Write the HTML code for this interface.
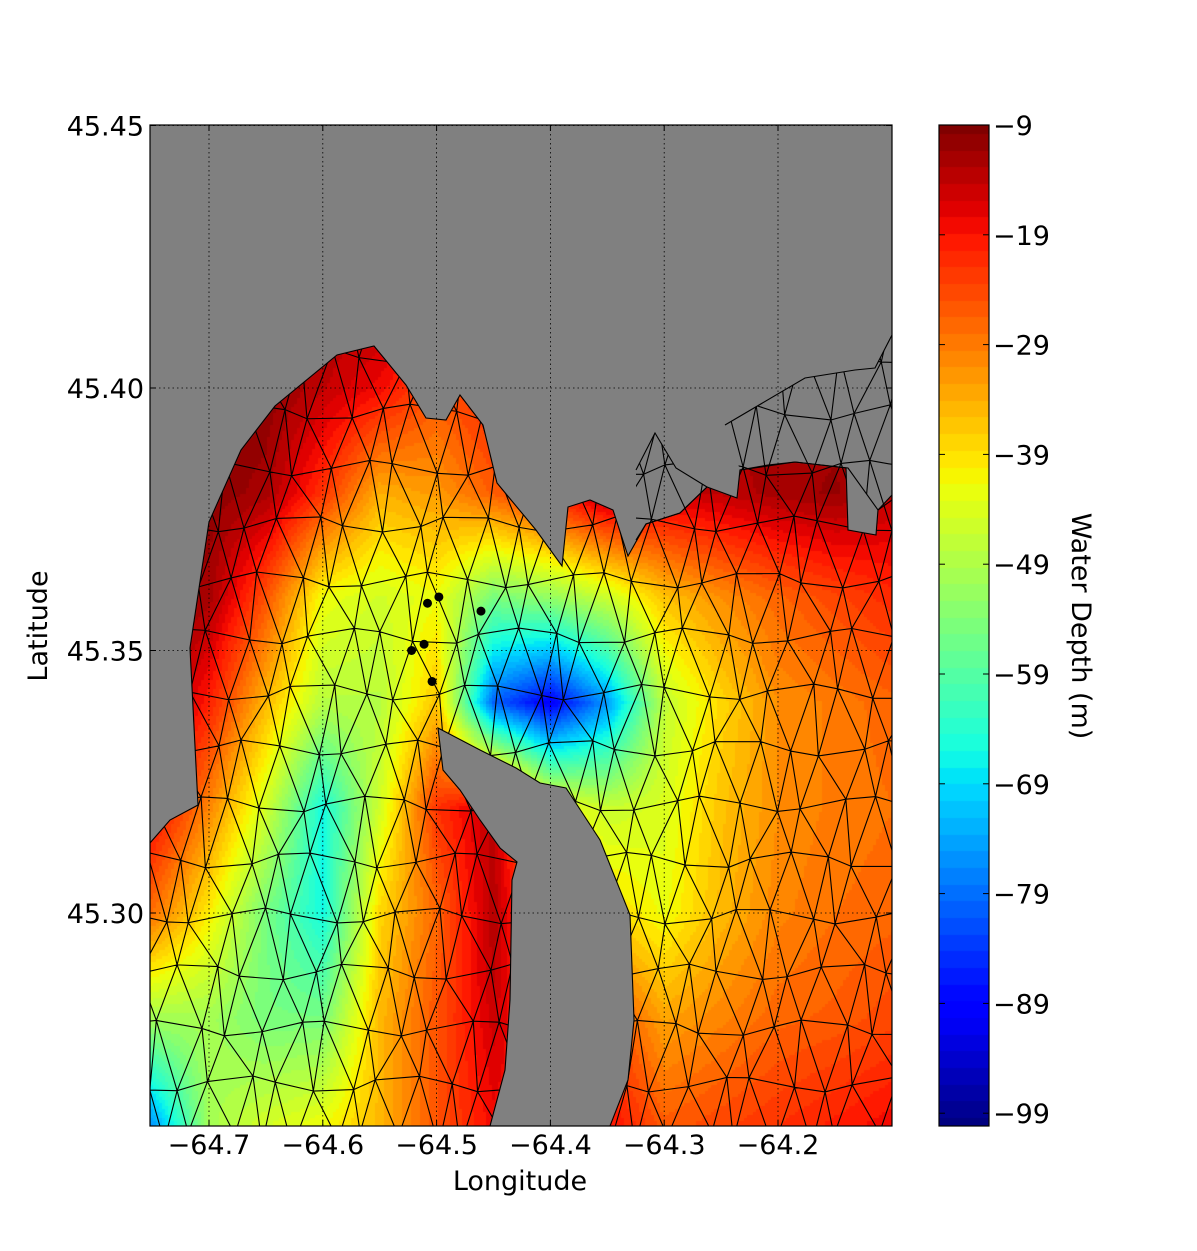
<!DOCTYPE html>
<html><head><meta charset="utf-8"><style>
html,body{margin:0;padding:0;background:#fff;overflow:hidden;}
#wrap{position:relative;width:1197px;height:1251px;overflow:hidden;font-family:"DejaVu Sans","Liberation Sans",sans-serif;}
canvas{position:absolute;left:0;top:0;}
svg{position:absolute;left:0;top:0;}
text{font-family:"DejaVu Sans","Liberation Sans",sans-serif;fill:#000;}
</style></head><body>
<div id="wrap">
<canvas id="cv" width="1197" height="1251"></canvas>
<svg id="sv" width="1197" height="1251"></svg>
</div>
<script>
// ---- data ----
const lons = [-64.75,-64.70,-64.65,-64.60,-64.55,-64.50,-64.45,-64.40,-64.35,-64.30,-64.25,-64.20,-64.15,-64.10];
const lats = [45.42,45.40,45.38,45.36,45.34,45.32,45.30,45.28,45.26];
const depthRow0 = [-12,-12,-12,-12,-12,-12,-12,-12,-12,-12,-12,-12,-12,-12];
const depthRow1 = [-10,-10,-10,-14,-18,-25,-20,-14,-12,-12,-12,-12,-12,-12];
const depthRow2 = [-10,-10,-12,-22,-34,-32,-26,-20,-12,-15,-14,-12,-11,-14];
const depthRow3 = [-10,-12,-25,-42,-45,-42,-55,-52,-46,-36,-31,-27,-24,-21];
const depthRow4 = [-10,-20,-35,-48,-48,-36,-80,-90,-75,-47,-38,-31,-29,-27];
const depthRow5 = [-17,-30,-45,-66,-45,-22,-14,-40,-46,-44,-36,-31,-29,-28];
const depthRow6 = [-28,-40,-55,-66,-38,-27,-13,-30,-38,-42,-35,-30,-28,-27];
const depthRow7 = [-50,-50,-55,-55,-35,-25,-15,-25,-24,-33,-30,-27,-26,-24];
const depthRow8 = [-75,-50,-45,-42,-35,-25,-18,-20,-18,-26,-24,-22,-20,-18];
const depth = [depthRow0,depthRow1,depthRow2,depthRow3,depthRow4,depthRow5,depthRow6,depthRow7,depthRow8];
const xTicks = [-64.7,-64.6,-64.5,-64.4,-64.3,-64.2];
const xTickLabels = ["\u221264.7","\u221264.6","\u221264.5","\u221264.4","\u221264.3","\u221264.2"];
const yTicks = [45.30,45.35,45.40,45.45];
const yTickLabels = ["45.30","45.35","45.40","45.45"];
const cbTicks = [-9,-19,-29,-39,-49,-59,-69,-79,-89,-99];
const stations = [[-64.508,45.3590],[-64.498,45.3602],[-64.461,45.3575],[-64.511,45.3512],[-64.522,45.3500],[-64.504,45.3441]];
// coastline of water region (pixel geometry of clip outline)
const coast = [[150,1126],[150,843],[170,820],[198,805],[190,648],[209,522],[241,450],[275,406],[337,355],[374,346],[406,385],[426,418],[446,420],[460,395],[483,425],[497,483],[536,530],[562,566],[568,507],[590,500],[613,510],[628,556],[646,524],[680,513],[707,487],[737,498],[740,470],[768,465],[795,462],[846,468],[848,530],[876,535],[878,510],[892,495],[892,1126],[610,1126],[628,1080],[634,1020],[630,915],[600,840],[566,788],[540,783],[516,768],[480,750],[438,728],[443,770],[460,790],[480,820],[500,848],[517,862],[512,880],[510,1000],[505,1070],[490,1126]];
const wires1 = [[725,425],[805,378],[855,370],[875,368],[892,335],[892,500],[878,510],[848,468],[795,462],[740,470]];
const wires2 = [[636,470],[655,433],[676,468],[707,487],[680,513],[646,524],[636,540]];

// ---- axes ----
const PX0=150,PX1=892,PY0=125,PY1=1126;
const sx = lon => 209 + (lon + 64.7) * 1138;
const sy = lat => 913 - (lat - 45.30) * 5250;
const VMAX=-9, VMIN=-100.0;
function seg(pts,t){for(let i=1;i<pts.length;i++){if(t<=pts[i][0]){const a=pts[i-1],b=pts[i];return a[1]+(b[1]-a[1])*(t-a[0])/(b[0]-a[0]);}}return pts[pts.length-1][1];}
const JR=[[0,0],[0.35,0],[0.66,1],[0.89,1],[1,0.5]];
const JG=[[0,0],[0.125,0],[0.375,1],[0.64,1],[0.91,0],[1,0]];
const JB=[[0,0.5],[0.11,1],[0.34,1],[0.65,0],[1,0]];
function jet(t){t=Math.max(0,Math.min(1,t));return [Math.round(255*seg(JR,t)),Math.round(255*seg(JG,t)),Math.round(255*seg(JB,t))];}
function col(v){const t=(v-VMIN)/(VMAX-VMIN);const q=Math.round(t*60)/60;return jet(q);}

// ---- canvas fill ----
const cv=document.getElementById('cv');const ctx=cv.getContext('2d');
ctx.fillStyle='#808080';ctx.fillRect(PX0,PY0,PX1-PX0,PY1-PY0);
ctx.save();ctx.beginPath();ctx.rect(PX0,PY0,PX1-PX0,PY1-PY0);ctx.clip();
ctx.beginPath();coast.forEach((p,i)=>i?ctx.lineTo(p[0],p[1]):ctx.moveTo(p[0],p[1]));ctx.closePath();ctx.clip();
const gxs=lons.map(sx), gys=lats.map(sy);
function interp(x,y){
 let i=0;while(i<gxs.length-2&&x>gxs[i+1])i++;
 let j=0;while(j<gys.length-2&&y>gys[j+1])j++;
 let u=(x-gxs[i])/(gxs[i+1]-gxs[i]),w=(y-gys[j])/(gys[j+1]-gys[j]);
 u=Math.max(0,Math.min(1,u));w=Math.max(0,Math.min(1,w));
 const a=depth[j][i],b=depth[j][i+1],c=depth[j+1][i],d=depth[j+1][i+1];
 return a*(1-u)*(1-w)+b*u*(1-w)+c*(1-u)*w+d*u*w;}
const S=3;
for(let y=PY0;y<PY1;y+=S)for(let x=PX0;x<PX1;x+=S){const c=col(interp(x+S/2,y+S/2));
 ctx.fillStyle=`rgb(${c[0]},${c[1]},${c[2]})`;ctx.fillRect(x,y,S,S);}
ctx.restore();
for(let y=125;y<1126;y++){const c=col(VMAX-(y-125)/11.0);ctx.fillStyle=`rgb(${c[0]},${c[1]},${c[2]})`;ctx.fillRect(939,y,50,1);}

// ---- svg overlay ----
const NS='http://www.w3.org/2000/svg';const sv=document.getElementById('sv');
function mk(tag,attrs,parent){const e=document.createElementNS(NS,tag);for(const k in attrs)e.setAttribute(k,attrs[k]);(parent||sv).appendChild(e);return e;}
const defs=mk('defs',{});
function clip(id,pts){const c=mk('clipPath',{id:id},defs);mk('polygon',{points:pts.map(p=>p.join(',')).join(' ')},c);}
clip('water',coast);clip('w1',wires1);clip('w2',wires2);
const cp2=mk('clipPath',{id:'plot'},defs);
mk('rect',{x:PX0,y:PY0,width:PX1-PX0,height:PY1-PY0},cp2);
const grid=mk('g',{stroke:'#000','stroke-width':0.8,'stroke-dasharray':'1.5,3'});


xTicks.forEach(t=>{const l=mk('line',{x1:sx(t),x2:sx(t),y1:PY0,y2:PY1},grid);});
yTicks.forEach(t=>{const l=mk('line',{x1:PX0,x2:PX1,y1:sy(t),y2:sy(t)},grid);});
// triangular mesh lattice (decorative geometry)
const nodes=[];const DX=34,DY=56;
for(let r=0;r<16;r++){const row=[];for(let k=0;k<26;k++){
 const jx=7*Math.sin(r*1.7+k*2.3), jy=8*Math.cos(r*2.1+k*1.3);
 row.push([110+k*DX+(r%2?DX/2:0)+jx, 300+r*DY+jy]);}nodes.push(row);}
let d='';
for(let r=0;r<nodes.length;r++)for(let k=0;k<nodes[r].length;k++){const p=nodes[r][k];
 if(k+1<nodes[r].length){const q=nodes[r][k+1];d+=`M${p[0]},${p[1]}L${q[0]},${q[1]}`;}
 if(r+1<nodes.length){const a=nodes[r+1][k];d+=`M${p[0]},${p[1]}L${a[0]},${a[1]}`;
  const k2=r%2?k+1:k-1; if(k2>=0&&k2<nodes[r].length){const b=nodes[r+1][k2];d+=`M${p[0]},${p[1]}L${b[0]},${b[1]}`;}}}
const mesh=mk('g',{stroke:'#000','stroke-width':1.1,fill:'none','clip-path':'url(#plot)'});


['water','w1','w2'].forEach(id=>{const g=mk('g',{'clip-path':`url(#${id})`},mesh);mk('path',{d:d},g);});
mk('polygon',{points:coast.map(p=>p.join(',')).join(' ')},mesh);
mk('polyline',{points:wires1.map(p=>p.join(',')).join(' ')},mesh);
mk('polyline',{points:wires2.map(p=>p.join(',')).join(' ')},mesh);
stations.forEach(s=>{const c=mk('circle',{cx:sx(s[0]),cy:sy(s[1]),r:4.5,fill:'#000'});});
const fr=mk('rect',{x:PX0,y:PY0,width:PX1-PX0,height:PY1-PY0,fill:'none',stroke:'#000','stroke-width':1.2});

xTicks.forEach((t,k)=>{const x=sx(t);mk('line',{x1:x,x2:x,y1:PY1,y2:PY1-6,stroke:'#000'});mk('line',{x1:x,x2:x,y1:PY0,y2:PY0+6,stroke:'#000'});
 const tx=mk('text',{x:x,y:1154,'font-size':27,'text-anchor':'middle'});tx.textContent=xTickLabels[k];});
yTicks.forEach((t,k)=>{const y=sy(t);mk('line',{x1:PX0,x2:PX0+6,y1:y,y2:y,stroke:'#000'});mk('line',{x1:PX1,x2:PX1-6,y1:y,y2:y,stroke:'#000'});
 const tx=mk('text',{x:144,y:y+10,'font-size':27,'text-anchor':'end'});tx.textContent=yTickLabels[k];});
let t=mk('text',{x:520,y:1190,'font-size':27,'text-anchor':'middle'});t.textContent='Longitude';

t=mk('text',{x:0,y:0,'font-size':27,'text-anchor':'middle',transform:'translate(47,626) rotate(-90)'});t.textContent='Latitude';

const cb=mk('rect',{x:939,y:125,width:50,height:1001,fill:'none',stroke:'#000','stroke-width':1.2});

cbTicks.forEach((v,k)=>{const y=125+k*109.8;mk('line',{x1:989,x2:983,y1:y,y2:y,stroke:'#000'});mk('line',{x1:939,x2:945,y1:y,y2:y,stroke:'#000'});
 const tx=mk('text',{x:993,y:y+10,'font-size':27});tx.textContent='\u2212'+Math.abs(v);});
t=mk('text',{x:0,y:0,'font-size':27,'text-anchor':'middle',transform:'translate(1072,626) rotate(90)'});t.textContent='Water Depth (m)';

</script>
</body></html>
